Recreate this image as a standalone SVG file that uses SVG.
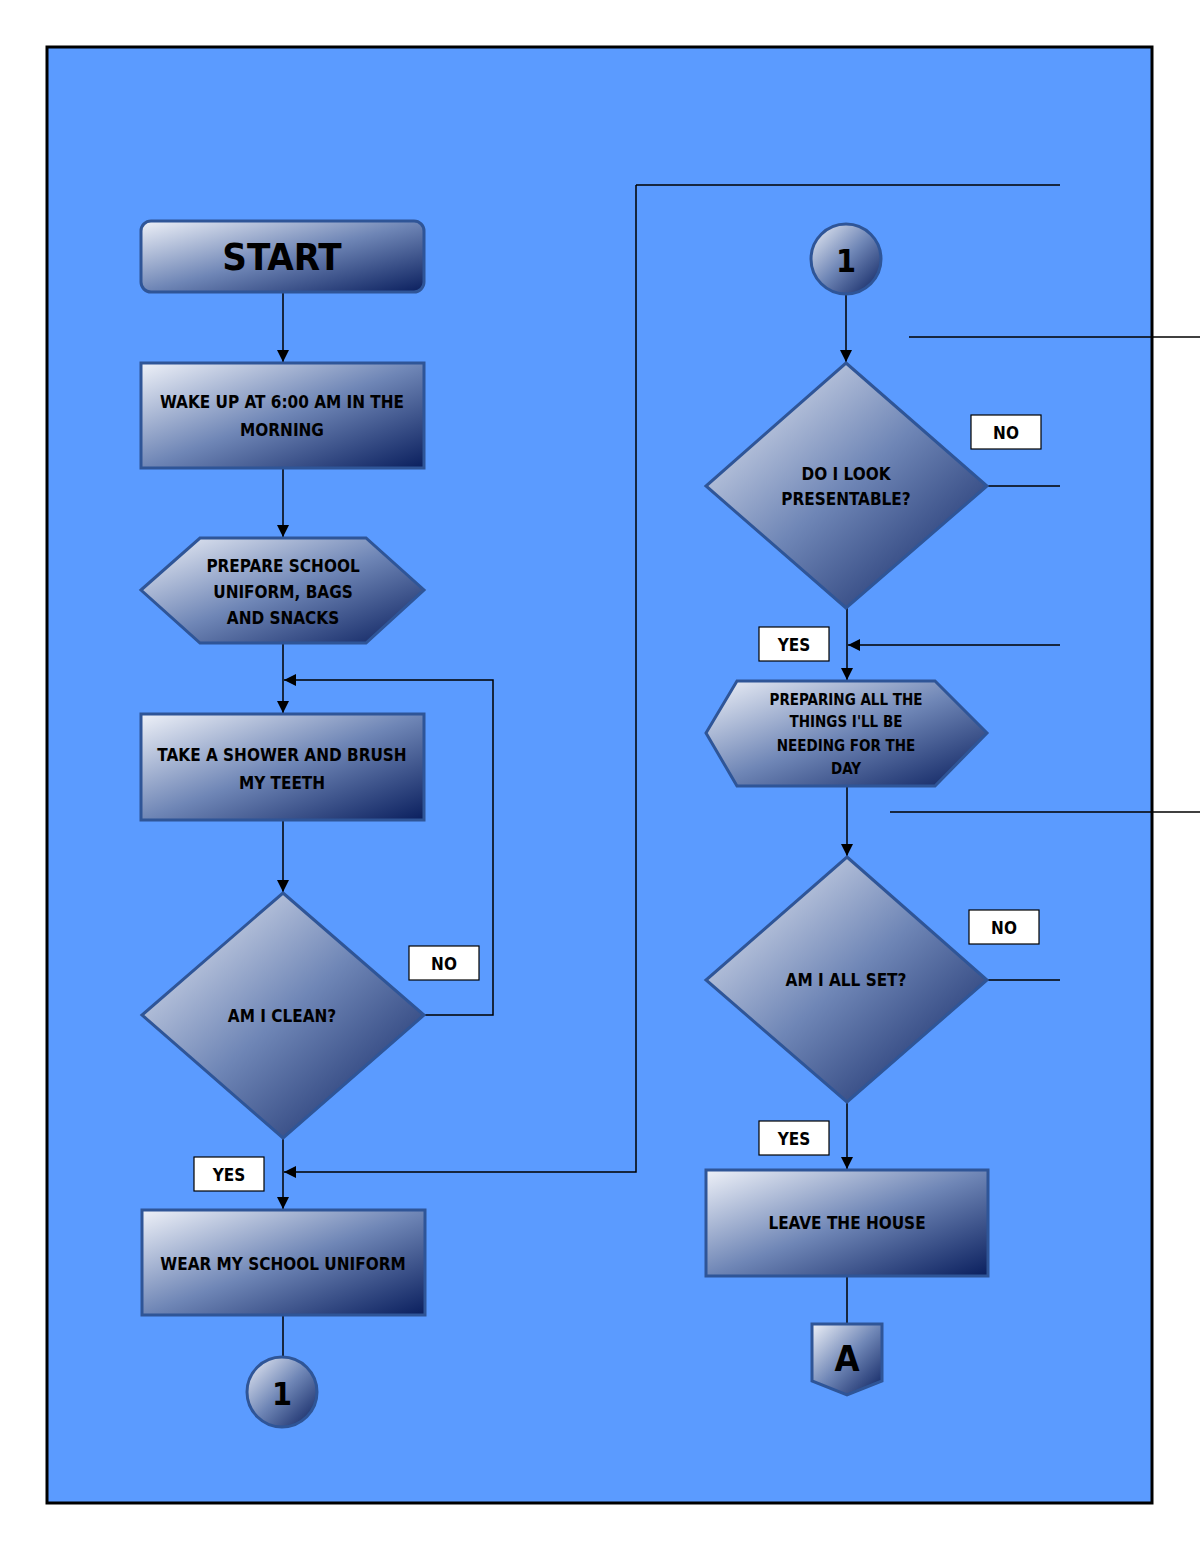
<svg xmlns="http://www.w3.org/2000/svg" width="1200" height="1553" viewBox="0 0 1200 1553">
<style>
.n{fill:url(#g);stroke:#2f5597;stroke-width:3}
.t{font-family:"DejaVu Sans Condensed","Liberation Sans",sans-serif;font-stretch:condensed;font-weight:bold;font-size:17px;fill:#000;text-anchor:middle}
.c{fill:none;stroke:#000;stroke-width:1.5}
.lb{fill:#fff;stroke:#000;stroke-width:1.2}
</style>
<defs>
<linearGradient id="g" x1="0" y1="0" x2="1" y2="1">
<stop offset="0" stop-color="#eef1f8"/><stop offset="0.5" stop-color="#6f86b6"/><stop offset="1" stop-color="#0a1f5e"/>
</linearGradient>
<marker id="a" viewBox="0 0 10 10" refX="10" refY="5" markerWidth="12" markerHeight="12" orient="auto" markerUnits="userSpaceOnUse"><path d="M0,0L10,5L0,10z" fill="#000"/></marker>
</defs>
<rect width="1200" height="1553" fill="#fff"/>
<rect x="47" y="47" width="1105" height="1456" fill="#5b9bff" stroke="#000" stroke-width="3"/>
<g id="connectors" class="c">
<path d="M283,292V362" marker-end="url(#a)"/>
<path d="M283,468V537" marker-end="url(#a)"/>
<path d="M283,643V713" marker-end="url(#a)"/>
<path d="M424,1015H493V680H284" marker-end="url(#a)"/>
<path d="M283,820V892" marker-end="url(#a)"/>
<path d="M283,1138V1209" marker-end="url(#a)"/>
<path d="M636,185V1172H284" marker-end="url(#a)"/>
<path d="M636,185H1060"/>
<path d="M283,1315V1357"/>
<path d="M846,294V362" marker-end="url(#a)"/>
<path d="M909,337H1200"/>
<path d="M987,486H1060"/>
<path d="M847,608V680" marker-end="url(#a)"/>
<path d="M1060,645H848" marker-end="url(#a)"/>
<path d="M847,786V856" marker-end="url(#a)"/>
<path d="M890,812H1200"/>
<path d="M987,980H1060"/>
<path d="M847,1102V1169" marker-end="url(#a)"/>
<path d="M847,1276V1324"/>
</g>
<g id="start"><rect class="n" x="141" y="221" width="283" height="71" rx="10"/><text class="t" x="282" y="270" style="font-size:38px">START</text></g>
<g id="wake"><rect class="n" x="141" y="363" width="283" height="105"/><text class="t" x="282" y="408">WAKE UP AT 6:00 AM IN THE</text><text class="t" x="282" y="436">MORNING</text></g>
<g id="prepare"><polygon class="n" points="141,590 200,538 366,538 424,590 366,643 200,643"/><text class="t" x="283" y="572">PREPARE SCHOOL</text><text class="t" x="283" y="598">UNIFORM, BAGS</text><text class="t" x="283" y="624">AND SNACKS</text></g>
<g id="shower"><rect class="n" x="141" y="714" width="283" height="106"/><text class="t" x="282" y="761">TAKE A SHOWER AND BRUSH</text><text class="t" x="282" y="789">MY TEETH</text></g>
<g id="clean"><polygon class="n" points="283,893 424,1015 283,1138 142,1015"/><text class="t" x="282" y="1022">AM I CLEAN?</text></g>
<g id="no1"><rect class="lb" x="409" y="946" width="70" height="34"/><text class="t" x="444" y="970">NO</text></g>
<g id="yes1"><rect class="lb" x="194" y="1157" width="70" height="34"/><text class="t" x="229" y="1181">YES</text></g>
<g id="wear"><rect class="n" x="142" y="1210" width="283" height="105"/><text class="t" x="283" y="1270">WEAR MY SCHOOL UNIFORM</text></g>
<g id="conn1a"><circle class="n" cx="282" cy="1392" r="35"/><text class="t" x="282" y="1405" style="font-size:32px">1</text></g>
<g id="conn1b"><circle class="n" cx="846" cy="259" r="35"/><text class="t" x="846" y="272" style="font-size:32px">1</text></g>
<g id="present"><polygon class="n" points="846,363 987,486 846,608 706,486"/><text class="t" x="846" y="480">DO I LOOK</text><text class="t" x="846" y="505">PRESENTABLE?</text></g>
<g id="no2"><rect class="lb" x="971" y="415" width="70" height="34"/><text class="t" x="1006" y="439">NO</text></g>
<g id="yes2"><rect class="lb" x="759" y="627" width="70" height="34"/><text class="t" x="794" y="651">YES</text></g>
<g id="things"><polygon class="n" points="706,733 737,681 935,681 987,733 935,786 737,786"/><text class="t" x="846" y="705" style="font-size:15px">PREPARING ALL THE</text><text class="t" x="846" y="727" style="font-size:15px">THINGS I'LL BE</text><text class="t" x="846" y="751" style="font-size:15px">NEEDING FOR THE</text><text class="t" x="846" y="774" style="font-size:15px">DAY</text></g>
<g id="allset"><polygon class="n" points="847,857 987,980 847,1102 706,980"/><text class="t" x="846" y="986">AM I ALL SET?</text></g>
<g id="no3"><rect class="lb" x="969" y="910" width="70" height="34"/><text class="t" x="1004" y="934">NO</text></g>
<g id="yes3"><rect class="lb" x="759" y="1121" width="70" height="34"/><text class="t" x="794" y="1145">YES</text></g>
<g id="leave"><rect class="n" x="706" y="1170" width="282" height="106"/><text class="t" x="847" y="1229">LEAVE THE HOUSE</text></g>
<g id="offA"><polygon class="n" points="812,1324 882,1324 882,1381 847,1395 812,1381"/><text class="t" x="847" y="1371" style="font-size:36px">A</text></g>
</svg>
